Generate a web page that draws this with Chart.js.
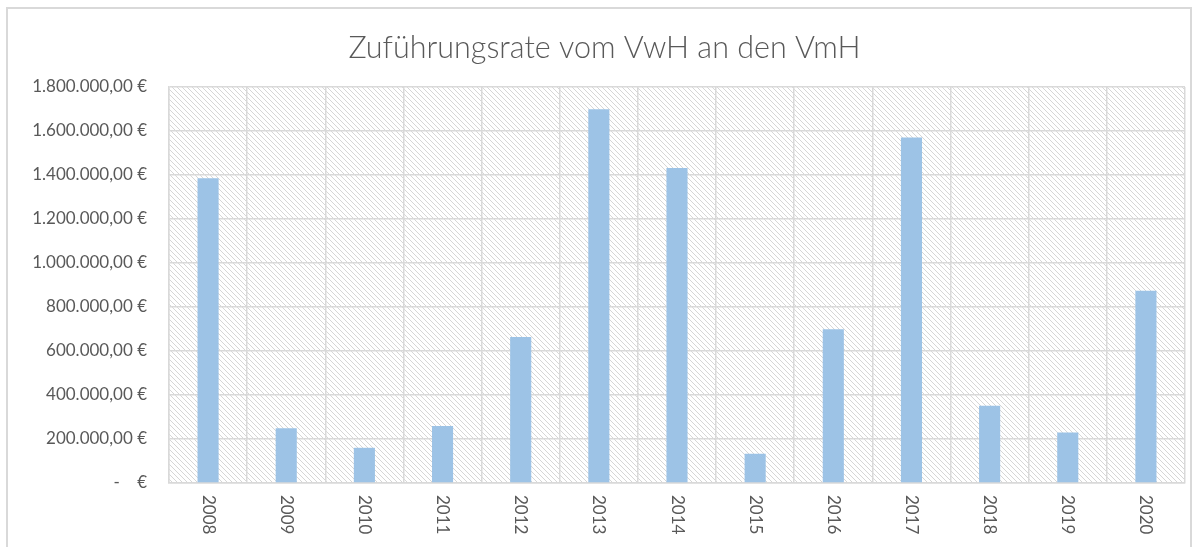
<!DOCTYPE html>
<html>
	<head>
		<meta charset="utf-8">
		<title>Zuführungsrate</title>
		<style type="text/css">
			html,body{margin:0;padding:0;background:#fff;}
			.container{position:relative;width:1202px;height:547px;overflow:hidden;}
			.frame{position:absolute;left:6px;top:7px;width:1186px;height:560px;border:2px solid #d9d9d9;box-sizing:border-box;}
			canvas{position:absolute;left:0;top:0;}
		</style>
	</head>
	<body>
		<div class="container">
			<div class="frame"></div>
			<canvas id="chart-bar" width="1202" height="547"></canvas>
		</div>
		<script src="https://cdn.jsdelivr.net/npm/chart.js@4"></script>
		<script type="text/javascript">
			// Daten
			const years = ['2008','2009','2010','2011','2012','2013','2014','2015','2016','2017','2018','2019','2020'];
			const rate = [1385000, 249000, 160000, 259000, 664000, 1699000, 1432000, 133000, 699000, 1570000, 351000, 230000, 874000];
			const yTickLabels = ['-    €','200.000,00 €','400.000,00 €','600.000,00 €','800.000,00 €','1.000.000,00 €','1.200.000,00 €','1.400.000,00 €','1.600.000,00 €','1.800.000,00 €'];

			const textColor = '#595959';
			const gridColor = '#d9d9d9';

			// Schraffur
			function makePattern(){
				let c = document.createElement('canvas');
				c.width = 5; c.height = 5;
				let ctx = c.getContext('2d');
				ctx.fillStyle = '#ffffff';
				ctx.fillRect(0,0,5,5);
				ctx.fillStyle = '#d6d6d6';
				for(let i=0;i<5;i++){ ctx.fillRect(i,i,1,1); }
				return ctx.createPattern(c,'repeat');
			}

			const hatch = {
				id: 'hatch',
				beforeDraw(chart){
					let a = chart.chartArea;
					let ctx = chart.ctx;
					ctx.save();
					ctx.fillStyle = makePattern();
					ctx.fillRect(a.left, a.top, a.right-a.left, a.bottom-a.top);
					ctx.restore();
				}
			};

			// x-Beschriftung, um 90° im Uhrzeigersinn gedreht
			const xLabels = {
				id: 'xLabels',
				afterDraw(chart){
					let x = chart.scales.x;
					let ctx = chart.ctx;
					ctx.save();
					ctx.fillStyle = textColor;
					ctx.font = '17px Lato';
					ctx.textAlign = 'left';
					ctx.textBaseline = 'middle';
					years.forEach(function(label, i){
						ctx.save();
						ctx.translate(x.getPixelForTick(i), chart.chartArea.bottom + 12);
						ctx.rotate(Math.PI/2);
						ctx.fillText(label, 0, 0);
						ctx.restore();
					});
					ctx.restore();
				}
			};

			new Chart(document.getElementById('chart-bar'), {
				type: 'bar',
				data: {
					labels: years,
					datasets: [{
						data: rate,
						backgroundColor: '#9dc3e6',
						barPercentage: 0.27,
						categoryPercentage: 1
					}]
				},
				options: {
					responsive: false,
					animation: false,
					layout: { padding: { left: 24, right: 17, top: 0, bottom: 0 } },
					plugins: {
						legend: { display: false },
						tooltip: { enabled: false },
						title: {
							display: true,
							text: 'Zuführungsrate vom VwH an den VmH',
							color: textColor,
							font: { family: 'Lato', size: 30.5, weight: '300', lineHeight: 1.2 },
							padding: { top: 30, bottom: 20.4 }
						}
					},
					scales: {
						x: {
							grid: { color: gridColor, lineWidth: 1.5, drawTicks: false, offset: true },
							border: { color: gridColor, width: 1.5 },
							ticks: { display: false },
							afterFit: function(s){ s.height = 64; }
						},
						y: {
							min: 0,
							max: 1800000,
							grid: { color: gridColor, lineWidth: 1.5, drawTicks: false },
							border: { color: gridColor, width: 1.5 },
							ticks: {
								stepSize: 200000,
								padding: 22,
								color: textColor,
								font: { family: 'Lato', size: 17 },
								callback: function(v){ return yTickLabels[Math.round(v/200000)]; }
							},
							afterFit: function(s){ s.width = 145; }
						}
					}
				},
				plugins: [hatch, xLabels]
			});
		</script>
	</body>
</html>
